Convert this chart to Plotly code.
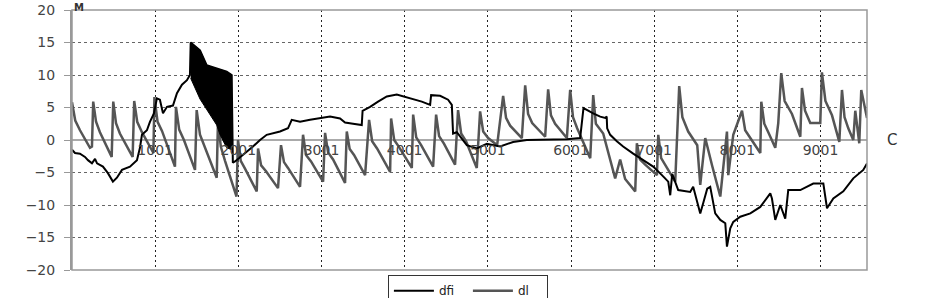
import plotly.graph_objects as go

# ---- data ----
dfi_x = [1, 37, 97, 157, 193, 241, 278, 302, 373, 433, 493, 541, 602, 698, 782, 818, 842, 902, 938,
         986, 1022, 1058, 1095, 1143, 1215, 1263, 1323, 1383, 1419,
         1428, 1540, 1620, 1741, 1861, 1921, 1935,
         1961, 2057, 2177, 2262, 2342, 2502, 2598, 2643, 2743, 2863, 2983, 3104, 3224, 3284, 3380,
         3485, 3495, 3585, 3681, 3786, 3906, 3982, 4087, 4207, 4307, 4319, 4427, 4523, 4568, 4583,
         4628, 4748, 4868, 4989, 5149, 5305, 5470, 5750, 5951, 6111, 6151, 6268, 6352, 6412, 6430,
         6436, 6472, 6552, 6628, 6749, 6869, 6989, 7094, 7170, 7194, 7218, 7290, 7434, 7470, 7555,
         7591, 7639, 7675, 7735, 7796, 7856, 7876, 7916, 7952, 8036, 8157, 8277, 8397, 8417, 8457,
         8517, 8577, 8613, 8758, 8914, 9035, 9079, 9155, 9275, 9395, 9515, 9560]
dfi_y = [-1.5, -2.0, -2.1, -2.6, -3.1, -3.6, -2.9, -3.6, -4.1, -5.1, -6.4, -5.8, -4.6, -4.1, -3.1, -1.2, 0.8, 1.5, 2.8,
         4.1, 6.4, 6.2, 4.1, 5.1, 5.3, 7.2, 8.5, 9.2, 10.0,
         15.0, 13.8, 11.5, 11.0, 10.5, 10.0, -3.5,
         -3.3, -2.3, -1.0, 0.0, 0.8, 1.3, 1.8, 3.1, 2.8, 3.1, 3.4, 3.6, 3.3, 2.7, 2.5,
         2.3, 4.5, 5.1, 5.9, 6.7, 7.0, 6.7, 6.4, 5.9, 5.4, 6.9, 6.8, 6.2, 5.4, 1.0,
         1.2, -0.8, -1.3, -0.6, -1.0, -0.3, 0.0, 0.0, 0.1, 0.3, 4.9, 4.1, 3.6, 3.4, 3.6,
         1.8, 0.8, -0.2, -1.0, -2.1, -3.1, -4.1, -5.4, -6.4, -8.5, -5.2, -7.7, -8.0, -7.2, -11.3,
         -9.7, -7.5, -7.2, -11.3, -12.3, -12.8, -16.4, -13.6, -12.6, -11.8, -11.3, -10.3, -8.2, -9.0, -12.3,
         -10.0, -12.1, -7.7, -7.7, -6.7, -6.7, -10.5, -9.0, -7.9, -5.9, -4.6, -3.6]

# dense oscillation band of dfi (upper and lower envelopes)
band_top_x = [1428, 1540, 1620, 1741, 1861, 1921]
band_top_y = [15.0, 13.8, 11.5, 11.0, 10.5, 10.0]
band_bot_x = [1428, 1540, 1636, 1741, 1781, 1861, 1925]
band_bot_y = [9.5, 6.3, 4.3, 2.3, 0.8, -1.2, -1.5]

dl_x = [1, 40, 97, 217, 241, 256, 290, 337, 478, 497, 530, 577, 730, 749, 785, 842, 980, 992, 1030, 1083, 1239,
        1251, 1290, 1347, 1480, 1500, 1540, 1588, 1741, 1756, 1790, 1841, 1979, 1997, 2030, 2081, 2222,
        2238, 2275, 2334, 2478, 2514, 2550, 2598, 2743, 2779, 2815, 2875, 3020, 3044, 3080, 3140, 3284,
        3305, 3340, 3392, 3525, 3573, 3610, 3669, 3826, 3838, 3875, 3934, 4087, 4103, 4140, 4199, 4343,
        4379, 4415, 4475, 4607, 4643, 4680, 4739, 4868, 4908, 4945, 5005, 5113, 5185, 5220, 5269, 5410,
        5450, 5485, 5534, 5690, 5726, 5760, 5810, 5951, 5991, 6025, 6075, 6232, 6268, 6300, 6388, 6532,
        6592, 6652, 6773, 6793, 6830, 6893, 7034, 7050, 7085, 7134, 7254, 7302, 7340, 7410, 7519,
        7555, 7615, 7699, 7796, 7876, 7892, 7952, 8057, 8095, 8157, 8277, 8289, 8325, 8373, 8457,
        8493, 8529, 8570, 8658, 8758, 8778, 8815, 8878, 8998, 9018, 9060, 9139, 9227, 9259, 9290, 9335, 9395,
        9419, 9467, 9491, 9560]
dl_y = [5.8, 3.0, 1.5, -1.2, -1.0, 5.9, 2.8, 1.2, -2.6, 5.9, 2.6, 1.0, -2.6, 6.0, 2.8, 1.2, -2.0, 6.6, 2.8, 1.4, -4.1,
        5.1, 1.6, 0.0, -4.6, 4.6, 0.8, -0.8, -5.8, 2.9, -1.0, -3.2, -8.7, 0.0, -3.2, -4.4, -7.9,
        -1.3, -3.9, -4.8, -7.4, -0.8, -3.4, -4.3, -7.2, 0.8, -2.3, -3.3, -6.4, 1.1, -1.9, -3.0, -6.6,
        1.3, -1.4, -2.3, -5.4, 3.1, -0.2, -1.3, -4.9, 3.3, 0.0, -1.1, -4.3, 3.9, 0.4, -0.8, -4.1,
        3.9, 0.6, -0.6, -3.8, 4.6, 1.0, -0.2, -4.3, 4.4, 1.3, 0.3, -0.8, 6.8, 3.4, 2.2, 0.3,
        8.4, 4.0, 2.6, 0.5, 7.8, 3.8, 2.5, 0.3, 7.7, 3.5, 1.8, -2.8, 6.9, 2.5, 1.0, -5.9,
        -3.0, -6.0, -7.9, -0.5, -3.0, -3.8, -5.4, 0.8, -2.8, -3.8, -6.4, 8.3, 3.5, 1.3, -0.8,
        -6.9, 0.3, -4.0, -8.7, 1.3, -5.4, 0.8, 4.5, 1.5, 0.3, -2.0, 5.9, 2.5, 1.2, -1.2,
        2.6, 10.3, 6.0, 4.0, 0.5, 8.0, 4.5, 2.6, 2.6, 10.4, 6.0, 3.8, -0.3, 7.7, 3.5, 1.8, 0.0,
        4.5, -0.5, 7.7, 3.4]

x_ticks = [1001, 2001, 3001, 4001, 5001, 6001, 7001, 8001, 9001]
x_tick_labels = ["1001", "2001", "3001", "4001", "5001", "6001", "7001", "8001", "9001"]
y_ticks = [-20, -15, -10, -5, 0, 5, 10, 15, 20]

GRAY = "#555555"

fig = go.Figure()
fig.add_trace(go.Scatter(x=dl_x, y=dl_y, mode="lines", name="dl",
                         line=dict(color=GRAY, width=2.5), legendrank=2))
fig.add_trace(go.Scatter(x=band_top_x + band_bot_x[::-1], y=band_top_y + band_bot_y[::-1],
                         mode="lines", fill="toself", fillcolor="black",
                         line=dict(color="black", width=1), showlegend=False, hoverinfo="skip"))
fig.add_trace(go.Scatter(x=dfi_x, y=dfi_y, mode="lines", name="dfi",
                         line=dict(color="black", width=2), legendrank=1))

fig.update_layout(
    width=928, height=298,
    margin=dict(l=72, r=61, t=10, b=28, autoexpand=False),
    paper_bgcolor="white", plot_bgcolor="white",
    font=dict(family="DejaVu Sans, Arial, sans-serif", size=13, color="#333"),
    showlegend=True,
    legend=dict(orientation="h", x=0.498, xanchor="center", y=-0.02, yanchor="top",
                bordercolor="#333", borderwidth=1, bgcolor="white",
                font=dict(size=12, color="#222"), itemwidth=40,
                tracegroupgap=0, entrywidth=24),
    xaxis=dict(range=[1, 9560], tickvals=x_ticks, ticktext=x_tick_labels,
               showgrid=True, gridcolor="#222", griddash="2px,3px", gridwidth=1,
               anchor="free", position=0.5, showline=False, zeroline=False,
               ticks="", tickfont=dict(size=14, color="#444")),
    yaxis=dict(range=[-20, 20], tickvals=y_ticks, showgrid=True, gridcolor="#666",
               griddash="3px,3px", gridwidth=1, zeroline=True, zerolinecolor="#aaa",
               zerolinewidth=2, showline=True, linecolor="#999", linewidth=2,
               ticks="outside", ticklen=6, tickcolor="#999", ticklabelstandoff=6,
               tickfont=dict(size=14, color="#444")),
    shapes=[dict(type="rect", xref="paper", yref="paper", x0=0, x1=1, y0=0, y1=1,
                 line=dict(color="#999", width=1.5), layer="above")],
    annotations=[
        dict(text="<b>M</b>", xref="paper", yref="paper", x=0.0, y=1.0,
             xanchor="left", yanchor="top", yshift=10, showarrow=False,
             font=dict(size=10, color="#333")),
        dict(text="C", xref="paper", yref="paper", x=1.031, y=0.5,
             xanchor="center", yanchor="middle", showarrow=False,
             font=dict(size=15, color="#333")),
    ],
)

fig.write_html("out.html", config={"displayModeBar": False},
               post_script="document.body.style.margin='0';")
